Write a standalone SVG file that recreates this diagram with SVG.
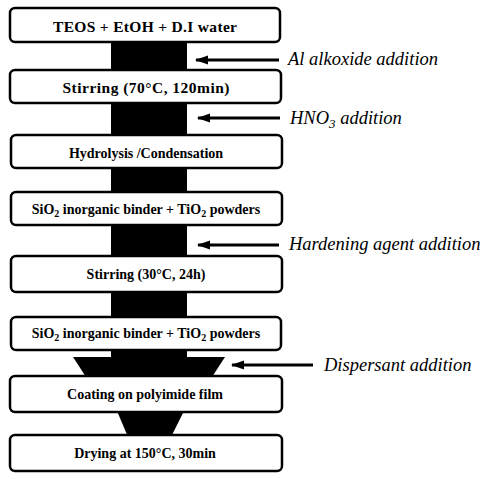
<svg xmlns="http://www.w3.org/2000/svg" width="498" height="479" viewBox="0 0 498 479">
<defs>
<marker id="ah" markerUnits="userSpaceOnUse" markerWidth="14" markerHeight="10" refX="12" refY="5" orient="auto">
<path d="M0,0.5 L13,5 L0,9.5 Z" fill="#000"/>
</marker>
<style>
.box{fill:#fff;stroke:#000;stroke-width:2.5}
.bt{font-family:"Liberation Serif","Times New Roman",serif;font-weight:bold;text-anchor:middle;fill:#000}
.lt{font-family:"Liberation Serif","Times New Roman",serif;font-style:italic;font-size:18.5px;fill:#000}
.arr{stroke:#000;stroke-width:3;fill:none}
</style>
</defs>
<rect width="498" height="479" fill="#fff"/>
<g id="connectors">
<rect x="111" y="40" width="76" height="318" fill="#000"/>
<polygon points="73,357 225,357 212,377 86,377" fill="#000"/>
<polygon points="117,411 184,411 171,437 128,437" fill="#000"/>
<line class="arr" x1="279" y1="60" x2="196" y2="60" marker-end="url(#ah)"/>
<line class="arr" x1="280" y1="118" x2="198" y2="118" marker-end="url(#ah)"/>
<line class="arr" x1="279" y1="245" x2="198" y2="245" marker-end="url(#ah)"/>
<line class="arr" x1="313" y1="365" x2="232" y2="365" marker-end="url(#ah)"/>
</g>
<g id="n1"><rect class="box" x="10" y="8" width="270" height="34" rx="5"/><text class="bt" x="145" y="32" style="font-size:15.5px" textLength="184">TEOS + EtOH + D.I water</text></g>
<g id="n2"><rect class="box" x="10" y="70" width="271" height="33" rx="5"/><text class="bt" x="146" y="93" style="font-size:15.5px" textLength="167">Stirring (70°C, 120min)</text></g>
<g id="n3"><rect class="box" x="11" y="135" width="271" height="33" rx="5"/><text class="bt" x="146" y="158" style="font-size:14px">Hydrolysis /Condensation</text></g>
<g id="n4"><rect class="box" x="11" y="192" width="271" height="33" rx="5"/><text class="bt" x="146" y="214" style="font-size:14px">SiO<tspan dy="3" style="font-size:10px">2</tspan><tspan dy="-3"> inorganic binder + TiO</tspan><tspan dy="3" style="font-size:10px">2</tspan><tspan dy="-3"> powders</tspan></text></g>
<g id="n5"><rect class="box" x="11" y="256" width="271" height="36" rx="5"/><text class="bt" x="146" y="279" style="font-size:14px">Stirring (30°C, 24h)</text></g>
<g id="n6"><rect class="box" x="11" y="317" width="270" height="33" rx="5"/><text class="bt" x="146" y="338" style="font-size:14px">SiO<tspan dy="3" style="font-size:10px">2</tspan><tspan dy="-3"> inorganic binder + TiO</tspan><tspan dy="3" style="font-size:10px">2</tspan><tspan dy="-3"> powders</tspan></text></g>
<g id="n7"><rect class="box" x="10" y="376" width="272" height="36" rx="5"/><text class="bt" x="145" y="399" style="font-size:14px">Coating on polyimide film</text></g>
<g id="n8"><rect class="box" x="10" y="435" width="272" height="36" rx="5"/><text class="bt" x="145" y="458" style="font-size:14px">Drying at 150°C, 30min</text></g>
<g id="labels">
<text class="lt" x="288" y="65">Al alkoxide addition</text>
<text class="lt" x="290" y="124">HNO<tspan dy="4" style="font-size:13px">3</tspan><tspan dy="-4"> addition</tspan></text>
<text class="lt" x="289" y="250">Hardening agent addition</text>
<text class="lt" x="324" y="371">Dispersant addition</text>
</g>
</svg>
